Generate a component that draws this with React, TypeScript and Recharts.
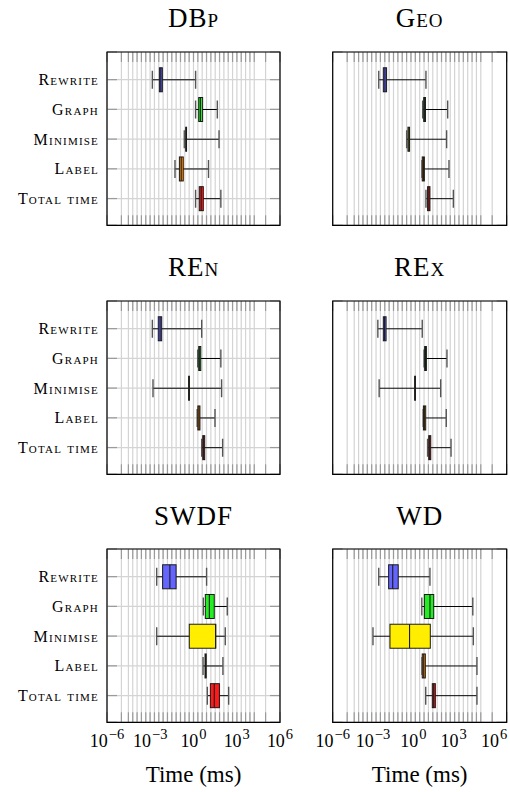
import React from "react";
import { ComposedChart, Bar, XAxis, YAxis, CartesianGrid, ReferenceArea } from "recharts";

const categories = ["Rewrite", "Graph", "Minimise", "Label", "Total time"];
const boxColors = ["#6464ff", "#22ee22", "#ffee00", "#ff8a00", "#ff1a1a"];
const tickExponents = [-6, -3, 0, 3, 6];

// one row per category: [min, q1, median, q3, max], in ms
const dbp = [
    [1.4e-3, 4.3e-3, 5.4e-3, 6.9e-3, 1.4],
    [1.4, 2.3, 3.0, 4.3, 45],
    [0.23, 0.29, 0.31, 0.33, 59],
    [0.052, 0.105, 0.14, 0.195, 11],
    [1.4, 2.5, 3.4, 4.8, 79]
];
const geo = [
    [1.5e-3, 3.1e-3, 4.0e-3, 5.2e-3, 2.7],
    [1.6, 1.9, 2.1, 2.5, 85],
    [0.126, 0.155, 0.178, 0.2, 72],
    [1.45, 1.5, 1.8, 2.1, 105],
    [2.7, 3.5, 4.3, 5.1, 210]
];
const ren = [
    [1.4e-3, 3.6e-3, 4.8e-3, 6.2e-3, 3.7],
    [1.95, 2.3, 2.7, 3.2, 79],
    [1.55e-3, 0.46, 0.49, 0.52, 89],
    [1.8, 2.0, 2.4, 2.8, 31],
    [3.7, 4.4, 5.1, 6.0, 105]
];
const rex = [
    [1.3e-3, 3.1e-3, 3.8e-3, 4.8e-3, 1.5],
    [2.0, 2.2, 2.5, 2.9, 76],
    [1.6e-3, 0.45, 0.48, 0.51, 28],
    [1.75, 1.8, 2.1, 2.6, 68],
    [3.5, 4.2, 4.9, 5.8, 145]
];
const swdf = [
    [2.8e-3, 7.2e-3, 0.023, 0.062, 8.1],
    [4.8, 6.6, 12.6, 27.5, 220],
    [2.8e-3, 0.51, 34, 35, 160],
    [4.6, 6.3, 6.9, 7.6, 110],
    [9.1, 14.8, 27.5, 63, 275]
];
const wd = [
    [1.5e-3, 7.2e-3, 0.0138, 0.033, 5.1],
    [1.4, 2.1, 5.1, 9.3, 4600],
    [6.0e-4, 8.9e-3, 0.2, 5.4, 5000],
    [1.45, 1.5, 1.9, 2.45, 8900],
    [2.6, 7.4, 9.3, 12, 8900]
];

const panels = [
    { title: "DBp", stats: dbp },
    { title: "Geo", stats: geo },
    { title: "REn", stats: ren },
    { title: "REx", stats: rex },
    { title: "SWDF", stats: swdf },
    { title: "WD", stats: wd }
];

// grid: decades at +-5 and powers of two in between
const gridTicks = [-5, ...Array.from({ length: 30 }, (_, i) => (i - 15) * Math.log10(2)), 5];

const SERIF = "'Liberation Serif', 'Times New Roman', serif";
const PLOT_H = 173.3;
const rowTops = [51.7, 301, 549.3];
const cols = [
    { left: 0, axisW: 107, plotW: 173, labelMax: 6 },
    { left: 290, axisW: 42.7, plotW: 174, labelMax: 6.94 }
];

const Whisker = (p: any) => {
    const { x, y, width, height } = p;
    const cy = y + height / 2;
    return (
        <g>
            <line x1={x} x2={x + width} y1={cy} y2={cy} stroke="#000" strokeWidth={1} />
            <line x1={x} x2={x} y1={y} y2={y + height} stroke="#555" strokeWidth={1.4} />
            <line x1={x + width} x2={x + width} y1={y} y2={y + height} stroke="#555" strokeWidth={1.4} />
        </g>
    );
};

const Box = (p: any) => (
    <rect x={p.x} y={p.y} width={Math.max(p.width, 0.5)} height={p.height}
        fill={boxColors[p.index]} stroke="#1a1a1a" strokeWidth={1} />
);

const Median = (p: any) => (
    <line x1={p.x + p.width} x2={p.x + p.width} y1={p.y} y2={p.y + p.height} stroke="#1a1a1a" strokeWidth={1.1} />
);

const vLine = (p: any) => (
    <g key={p.key ?? `v-${p.index}`}>
        <line x1={p.x1} x2={p.x2} y1={p.y1} y2={p.y2} stroke="#d4d4d4" strokeWidth={1.2} />
        <line x1={p.x1} x2={p.x1} y1={p.y1} y2={p.y1 + 10} stroke="#9a9a9a" strokeWidth={1.2} />
        <line x1={p.x1} x2={p.x1} y1={p.y2 - 10} y2={p.y2} stroke="#9a9a9a" strokeWidth={1.2} />
    </g>
);

const hLine = (p: any) => (
    <g key={p.key ?? `h-${p.index}`}>
        <line x1={p.x1} x2={p.x2} y1={p.y1} y2={p.y2} stroke="#d4d4d4" strokeWidth={1.2} />
        <line x1={p.x1} x2={p.x1 + 10} y1={p.y1} y2={p.y1} stroke="#9a9a9a" strokeWidth={1.2} />
        <line x1={p.x2 - 10} x2={p.x2} y1={p.y1} y2={p.y1} stroke="#9a9a9a" strokeWidth={1.2} />
    </g>
);

const PowTick = (p: any) => {
    const v = p.payload.value;
    return (
        <text x={p.x} y={p.y + 24.4} textAnchor="middle" fontFamily={SERIF} fill="#000">
            <tspan fontSize={18}>10</tspan>
            <tspan fontSize={14.5} dy={-7.5} dx={1}>{v < 0 ? `\u2212${-v}` : `${v}`}</tspan>
        </text>
    );
};

const Panel = ({ title, stats, row, col }: any) => {
    const c = cols[col];
    const bottom = row === 2;
    const top = rowTops[row];
    const data = categories.map((name, i) => ({ name, pos: i + 1, s: stats[i].map((v: number) => Math.log10(v)) }));
    const yProps = {
        type: "number" as const,
        dataKey: "pos",
        domain: [0.07, 5.9],
        allowDataOverflow: true,
        ticks: [1, 2, 3, 4, 5],
        interval: 0 as const
    };
    return (
        <>
            <div style={{
                position: "absolute", left: c.left + c.axisW, width: c.plotW, top: top - 46.6,
                textAlign: "center", fontFamily: SERIF, fontSize: 27, lineHeight: "27px",
                fontVariant: "small-caps", letterSpacing: 1
            }}>
                {title}
            </div>
            <div style={{ position: "absolute", left: c.left, top: top - 2 }}>
                <ComposedChart
                    width={c.axisW + c.plotW + 2}
                    height={2 + PLOT_H + (bottom ? 70 : 2)}
                    data={data}
                    layout="vertical"
                    margin={{ top: 2, right: 2, left: 0, bottom: bottom ? 0 : 2 }}
                >
                    {bottom && (
                        <XAxis xAxisId="t" type="number" domain={[-6, c.labelMax]} allowDataOverflow ticks={tickExponents}
                            interval={0} height={70} tickLine={false} axisLine={false} tickSize={0} tickMargin={0}
                            tick={<PowTick />} />
                    )}
                    <XAxis xAxisId="g" type="number" orientation="top" height={0} domain={[-6, 6]}
                        allowDataOverflow ticks={gridTicks} interval={0} hide />
                    <YAxis yAxisId="w" {...yProps} width={c.axisW} axisLine={false} tickLine={false}
                        tickSize={6} tickMargin={2}
                        tickFormatter={(v: number) => categories[v - 1]}
                        tick={col === 0 ? {
                            fontFamily: SERIF, fontSize: 16, fill: "#000",
                            style: { fontVariant: "small-caps", letterSpacing: "1.2px" }
                        } : false} />
                    <YAxis yAxisId="b" {...yProps} orientation="right" width={0} hide />
                    <YAxis yAxisId="m" {...yProps} orientation="right" width={0} hide />
                    <CartesianGrid xAxisId="g" yAxisId="w" vertical={vLine} horizontal={hLine} />
                    <Bar xAxisId="g" yAxisId="w" dataKey={(d: any) => [d.s[0], d.s[4]]} barSize={18}
                        shape={<Whisker />} isAnimationActive={false} />
                    <Bar xAxisId="g" yAxisId="b" dataKey={(d: any) => [d.s[1], d.s[3]]} barSize={24}
                        shape={<Box />} isAnimationActive={false} />
                    <Bar xAxisId="g" yAxisId="m" dataKey={(d: any) => [d.s[1], d.s[2]]} barSize={24}
                        shape={<Median />} isAnimationActive={false} />
                    <ReferenceArea xAxisId="g" yAxisId="w" x1={-6} x2={6} fill="none" stroke="#000" strokeWidth={1.2} />
                </ComposedChart>
            </div>
            {bottom && (
                <div style={{
                    position: "absolute", left: c.left + c.axisW, width: c.plotW, top: top + PLOT_H + 40.4,
                    textAlign: "center", fontFamily: SERIF, fontSize: 23, lineHeight: "23px"
                }}>
                    Time (ms)
                </div>
            )}
        </>
    );
};

export default function App() {
    return (
        <div style={{ position: "absolute", left: 0, top: 0, width: 510, height: 792, background: "#fff" }}>
            <style>{`.recharts-surface { overflow: visible; }`}</style>
            {panels.map((p, i) => (
                <Panel key={p.title} title={p.title} stats={p.stats} row={Math.floor(i / 2)} col={i % 2} />
            ))}
        </div>
    );
}
